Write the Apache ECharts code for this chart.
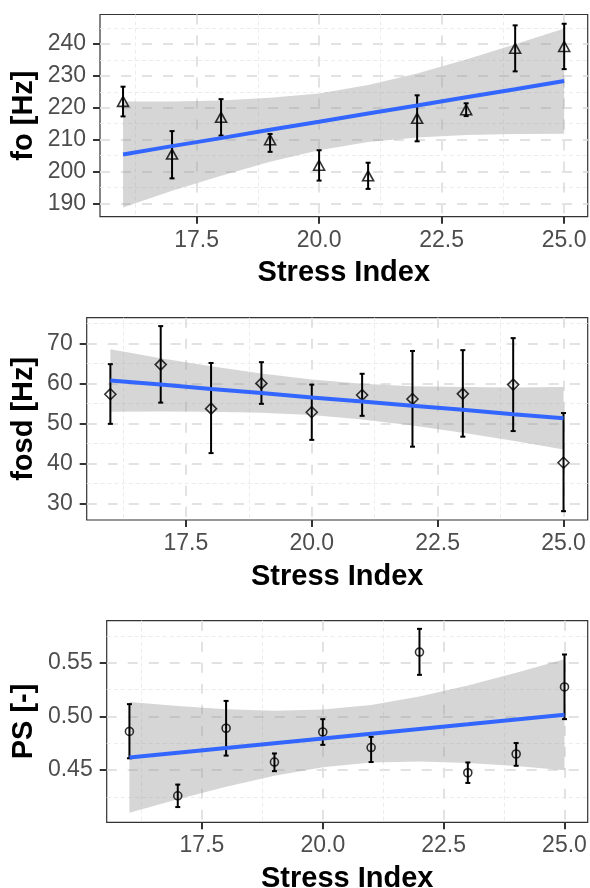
<!DOCTYPE html>
<html>
<head>
<meta charset="utf-8">
<script src="https://cdn.jsdelivr.net/npm/echarts@6/dist/echarts.min.js"></script>
<style>
html,body{margin:0;padding:0;background:#fff;}
#chart{width:590px;height:888px;}
</style>
</head>
<body>
<div id="chart"></div>
<script>
// ---- data ----
const stressIndex = [16, 17, 18, 19, 20, 21, 22, 23, 24, 25];
const xTicks = [17.5, 20, 22.5, 25];

// panel 1: fo [Hz]
const foMean = [222.0, 205.5, 217.0, 210.0, 202.0, 198.7, 216.7, 219.4, 238.6, 239.2];
const foLow  = [217.3, 197.9, 211.3, 206.2, 197.2, 194.6, 209.5, 217.4, 231.4, 232.1];
const foHigh = [226.6, 212.7, 222.7, 211.8, 206.7, 202.8, 223.9, 221.4, 245.8, 246.3];
const foFit  = [205.4, 208.0, 210.5, 213.1, 215.6, 218.2, 220.7, 223.3, 225.8, 228.4];
const foUpper = [222.0, 222.0, 222.3, 223.1, 224.5, 227.1, 230.7, 235.1, 239.9, 244.8];
const foLower = [188.8, 194.0, 198.7, 203.1, 206.7, 209.3, 210.7, 211.5, 211.8, 211.9];
const foTicks = [190, 200, 210, 220, 230, 240];

// panel 2: fosd [Hz]
const fosdMean = [57.3, 64.7, 53.7, 60.0, 52.8, 57.1, 56.1, 57.4, 59.7, 40.2];
const fosdLow  = [49.9, 55.2, 42.6, 54.9, 45.9, 51.9, 44.2, 46.7, 48.1, 28.1];
const fosdHigh = [64.8, 74.3, 65.1, 65.3, 59.7, 62.4, 68.1, 68.3, 71.3, 52.6];
const fosdFit  = [60.7, 59.7, 58.6, 57.6, 56.5, 55.5, 54.4, 53.4, 52.3, 51.3];
const fosdUpper = [68.5, 66.3, 64.3, 62.5, 61.0, 59.9, 59.3, 59.1, 59.0, 59.1];
const fosdLower = [52.9, 53.0, 52.9, 52.7, 52.1, 51.0, 49.5, 47.7, 45.7, 43.5];
const fosdTicks = [30, 40, 50, 60, 70];

// panel 3: PS [-]
const psMean = [0.486, 0.426, 0.489, 0.4575, 0.4855, 0.471, 0.560, 0.4475, 0.465, 0.5275];
const psLow  = [0.461, 0.4155, 0.4635, 0.449, 0.4735, 0.4575, 0.5388, 0.438, 0.454, 0.4975];
const psHigh = [0.5115, 0.4365, 0.5145, 0.4655, 0.4975, 0.481, 0.5817, 0.4571, 0.4752, 0.5578];
const psFit  = [0.4618, 0.4662, 0.4706, 0.4751, 0.4795, 0.4839, 0.4883, 0.4927, 0.4972, 0.5016];
const psUpper = [0.5135, 0.5097, 0.5068, 0.5054, 0.5064, 0.5108, 0.5186, 0.5289, 0.5407, 0.5533];
const psLower = [0.4101, 0.4227, 0.4344, 0.4448, 0.4526, 0.4570, 0.4580, 0.4565, 0.4537, 0.4499];
const psTicks = [0.45, 0.50, 0.55];

const yTitles = ['fo [Hz]', 'fosd [Hz]', 'PS [-]'];
const xTitle = 'Stress Index';

// ---- styling / layout ----
const FONT = "'Liberation Sans', Arial, sans-serif";
const grids = [
  {left: 100, top: 14.5, width: 487.7, height: 202.2},
  {left: 86.7, top: 317.7, width: 501, height: 202.3},
  {left: 106.7, top: 620.7, width: 481, height: 201.6}
];
const yRanges = [[185.9, 249.2], [25.9, 76.4], [0.4013, 0.5893]];
const yStep = [10, 10, 0.05];
const yDigits = [0, 0, 2];
const yTickArr = [foTicks, fosdTicks, psTicks];
const yNameGap = [61.5, 48, 68];

function gridOpt(g) {
  return Object.assign({
    show: true, borderColor: '#333333', borderWidth: 1.2,
    backgroundColor: '#ffffff', containLabel: false, outerBoundsMode: 'none'
  }, g);
}

function xAxisOpt(i) {
  return {
    type: 'value', gridIndex: i, min: 15.53, max: 25.48,
    minInterval: 2.5, maxInterval: 2.5,
    axisLine: {show: false},
    axisTick: {show: true, length: 7, customValues: xTicks, lineStyle: {color: '#333333', width: 2}},
    axisLabel: {customValues: xTicks, formatter: v => Number(v).toFixed(1), margin: 12,
      color: '#4d4d4d', fontSize: 23, fontFamily: FONT},
    splitLine: {show: true, lineStyle: {color: '#e2e2e2', width: 2, type: [10, 11]}},
    minorTick: {show: false, splitNumber: 2},
    minorSplitLine: {show: true, lineStyle: {color: '#ececec', width: 1, type: [4, 3]}},
    name: xTitle, nameLocation: 'middle', nameGap: 42, nameMoveOverlap: false,
    nameTextStyle: {fontSize: 29, fontWeight: 'bold', color: '#000', fontFamily: FONT}
  };
}

function yAxisOpt(i) {
  return {
    type: 'value', gridIndex: i, min: yRanges[i][0], max: yRanges[i][1],
    minInterval: yStep[i], maxInterval: yStep[i],
    axisLine: {show: false},
    axisTick: {show: true, length: 7, customValues: yTickArr[i], lineStyle: {color: '#333333', width: 2}},
    axisLabel: {customValues: yTickArr[i], formatter: v => Number(v).toFixed(yDigits[i]), margin: 14,
      color: '#4d4d4d', fontSize: 23, fontFamily: FONT},
    splitLine: {show: true, lineStyle: {color: '#e2e2e2', width: 2, type: [10, 11]}},
    minorTick: {show: false, splitNumber: 2},
    minorSplitLine: {show: true, lineStyle: {color: '#ececec', width: 1, type: [4, 3]}},
    name: yTitles[i], nameLocation: 'middle', nameGap: yNameGap[i], nameRotate: 90, nameMoveOverlap: false,
    nameTextStyle: {fontSize: 29, fontWeight: 'bold', color: '#000', fontFamily: FONT}
  };
}

function ribbonSeries(i, upper, lower) {
  const rows = stressIndex.map((x, k) => [x, lower[k], upper[k]]);
  return {
    type: 'custom', xAxisIndex: i, yAxisIndex: i, z: 1, silent: true,
    data: rows,
    encode: {x: 0, y: [1, 2]},
    renderItem: function (params, api) {
      if (params.dataIndex !== 0) return null;
      const pts = [];
      for (let k = 0; k < rows.length; k++) pts.push(api.coord([rows[k][0], rows[k][2]]));
      for (let k = rows.length - 1; k >= 0; k--) pts.push(api.coord([rows[k][0], rows[k][1]]));
      return {type: 'polygon', shape: {points: pts}, style: {fill: 'rgba(153,153,153,0.4)', stroke: null}};
    }
  };
}

function errorSeries(i, low, high) {
  return {
    type: 'custom', xAxisIndex: i, yAxisIndex: i, z: 2, silent: true,
    data: stressIndex.map((x, k) => [x, low[k], high[k]]),
    encode: {x: 0, y: [1, 2]},
    renderItem: function (params, api) {
      const x = api.value(0);
      const a = api.coord([x, api.value(1)]);
      const b = api.coord([x, api.value(2)]);
      const hw = 2.5;
      const st = {stroke: '#000', lineWidth: 2};
      return {type: 'group', children: [
        {type: 'line', shape: {x1: a[0], y1: a[1], x2: b[0], y2: b[1]}, style: st},
        {type: 'line', shape: {x1: a[0] - hw, y1: a[1], x2: a[0] + hw, y2: a[1]}, style: st},
        {type: 'line', shape: {x1: b[0] - hw, y1: b[1], x2: b[0] + hw, y2: b[1]}, style: st}
      ]};
    }
  };
}

function pointSeries(i, mean, symbol, size) {
  return {
    type: 'scatter', xAxisIndex: i, yAxisIndex: i, z: 3, silent: true,
    symbol: symbol, symbolSize: size,
    itemStyle: {color: 'rgba(0,0,0,0)', borderColor: '#000', borderWidth: 1.6},
    data: stressIndex.map((x, k) => [x, mean[k]])
  };
}

function fitSeries(i, fit) {
  return {
    type: 'line', xAxisIndex: i, yAxisIndex: i, z: 4, silent: true,
    showSymbol: false, symbol: 'none',
    lineStyle: {color: '#3366FF', width: 4},
    data: stressIndex.map((x, k) => [x, fit[k]])
  };
}

const option = {
  animation: false,
  backgroundColor: '#ffffff',
  grid: grids.map(gridOpt),
  xAxis: [0, 1, 2].map(xAxisOpt),
  yAxis: [0, 1, 2].map(yAxisOpt),
  series: [
    ribbonSeries(0, foUpper, foLower), errorSeries(0, foLow, foHigh),
    pointSeries(0, foMean, 'triangle', [11, 10]), fitSeries(0, foFit),
    ribbonSeries(1, fosdUpper, fosdLower), errorSeries(1, fosdLow, fosdHigh),
    pointSeries(1, fosdMean, 'diamond', [11, 11]), fitSeries(1, fosdFit),
    ribbonSeries(2, psUpper, psLower), errorSeries(2, psLow, psHigh),
    pointSeries(2, psMean, 'circle', 8), fitSeries(2, psFit)
  ]
};

const chart = echarts.init(document.getElementById('chart'), null, {renderer: 'canvas'});
chart.setOption(option);
</script>
</body>
</html>
